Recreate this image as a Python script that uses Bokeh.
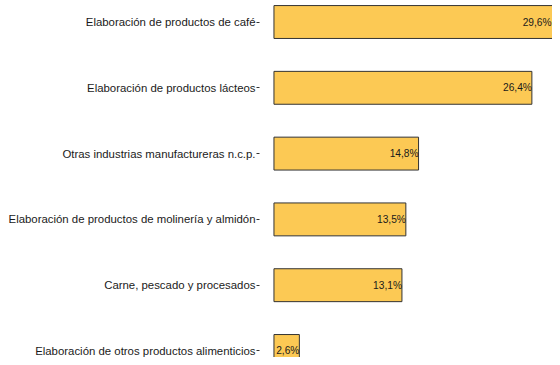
from bokeh.plotting import figure
from bokeh.models import ColumnDataSource, Range1d, FixedTicker
from bokeh.core.properties import value
from bokeh.embed import file_html
from bokeh.resources import INLINE

categories = [
    "Elaboración de productos de café",
    "Elaboración de productos lácteos",
    "Otras industrias manufactureras n.c.p.",
    "Elaboración de productos de molinería y almidón",
    "Carne, pescado y procesados",
    "Elaboración de otros productos alimenticios",
]
shares = [29.6, 26.4, 14.8, 13.5, 13.1, 2.6]

positions = list(range(len(categories)))
labels = [f"{v:.1f}".replace(".", ",") + "%" for v in shares]

pad = 0.05 * max(shares)
x_start = -pad
x_end = -pad + 29.99
# keep value labels inside the visible frame
label_x = [min(v, x_end - 0.1) for v in shares]

src = ColumnDataSource(dict(y=positions, x=shares, lx=label_x, label=labels))

p = figure(
    width=552, height=357,
    output_backend="svg", toolbar_location=None,
    x_range=Range1d(x_start, x_end),
    y_range=Range1d(5.099, -0.327),
    min_border_left=259, min_border_right=0,
    min_border_top=0, min_border_bottom=0,
)
p.outline_line_color = None
p.background_fill_color = "white"
p.border_fill_color = "white"
p.xgrid.visible = False
p.ygrid.visible = False
p.xaxis.visible = False

p.hbar(y="y", left=0, right="x", height=0.5, source=src,
       fill_color="#FCC954", line_color="#333333", line_width=1)

p.text(x="lx", y="y", text="label", source=src,
       text_align="right", text_baseline="middle",
       text_font=value("Liberation Sans"), text_font_size="10.2px",
       text_color="#1a1a1a")

yax = p.yaxis[0]
yax.ticker = FixedTicker(ticks=positions)
yax.major_label_overrides = {i: c for i, c in zip(positions, categories)}
yax.major_label_text_font = "Liberation Sans"
yax.major_label_text_font_size = "11.4px"
yax.major_label_text_color = "#1a1a1a"
yax.major_label_standoff = 1
yax.major_tick_in = 0
yax.major_tick_out = 3
yax.major_tick_line_color = "#333333"
yax.minor_tick_line_color = None
yax.axis_line_color = None

open("out.html", "w").write(file_html(p, INLINE))
